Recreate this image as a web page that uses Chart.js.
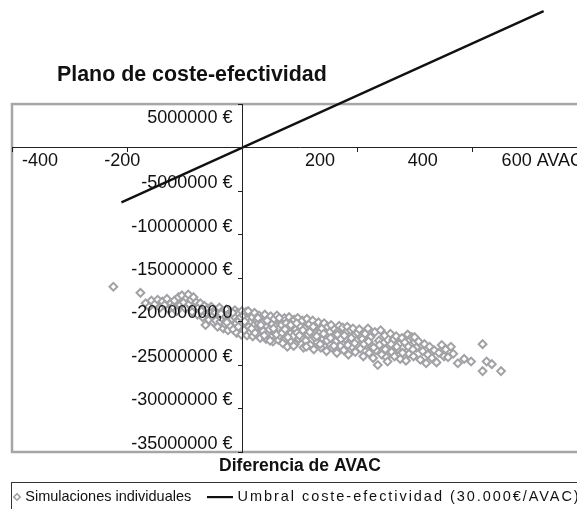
<!DOCTYPE html>
<html><head><meta charset="utf-8">
<script src="https://cdn.jsdelivr.net/npm/chart.js@4.4.1/dist/chart.umd.min.js"></script>
<style>html,body{margin:0;padding:0;background:#fff;overflow:hidden;width:577px;height:509px}canvas{display:block}</style>
</head><body>
<canvas id="c" width="600" height="509"></canvas>
<script>
// ---- data ----
const chartTitle = 'Plano de coste-efectividad';
const xTitle = 'Diferencia de AVAC';
const seriesNames = ['Simulaciones individuales', 'Umbral coste-efectividad (30.000€/AVAC)'];

// individual simulations: QALY difference (AVAC) and cost difference (millions €)
const simAVAC = [
-224,-177,-168,-162,-158,-152,-147,-143,-139,-135,-131,-128,-124,-121,-118,-114,-111,-108,-105,-102,
-99,-97,-94,-92,-89,-87,-85,-83,-80,-78,-76,-73,-71,-69,-66,-64,-62,-60,-58,-56,
-54,-52,-50,-48,-46,-45,-43,-41,-40,-38,-36,-35,-33,-31,-30,-28,-26,-25,-23,-21,-20,-18,-16,-15,-13,-11,-10,-8,-6,-5,-3,-2,-1,0,
2,3,5,6,8,9,11,12,14,15,17,18,20,21,23,25,26,28,29,31,33,34,36,37,39,41,42,44,45,47,49,50,52,53,55,57,58,60,62,63,65,66,68,70,71,73,75,76,78,80,81,83,85,86,88,90,91,93,95,96,98,100,
102,104,106,108,110,112,114,116,118,120,122,124,126,128,130,132,134,136,138,140,142,144,146,148,150,152,154,156,158,160,162,164,166,168,170,172,174,176,178,180,182,184,186,188,190,192,194,196,198,200,
203,205,208,210,213,215,218,220,222,225,227,230,232,235,237,240,242,245,247,250,252,254,257,259,262,264,267,269,272,274,277,279,282,284,287,289,292,294,297,299,
302,306,309,313,316,319,322,325,329,333,337,341,346,350,353,357,362,366,374,385,397,417,417,424,433,449,
-47,-37,-27,-17,-7,4,10,16,22,27,32,38,43,48,54,59,64,69,74,79,84,89,94,99,105,111,117,123,129,135,
141,147,153,159,165,171,177,183,189,195,211,219,228,238,248,258,268,278,288,296
];
const simCostM = [
-16.0,-16.7,-17.9,-18.3,-17.6,-18.0,-17.5,-18.4,-17.7,-18.1,-17.4,-18.6,-17.9,-18.3,-17.6,-18.8,-17.2,-18.1,-17.0,-17.8,
-18.5,-17.3,-16.9,-18.0,-17.5,-18.9,-17.2,-18.3,-17.8,-19.2,-18.4,-17.9,-18.8,-19.5,-18.2,-20.4,-19.0,-18.5,-19.8,-18.9,
-18.3,-19.4,-20.1,-18.7,-19.9,-18.9,-20.6,-19.2,-18.4,-20.0,-19.6,-18.8,-20.8,-19.3,-20.3,-18.6,-19.8,-21.0,-19.1,-20.5,-18.9,-19.7,-20.9,-19.4,-18.7,-20.2,-21.3,-19.0,-19.9,-20.7,-19.5,-21.5,-18.8,-20.3,
-19.3,-21.0,-20.1,-18.9,-21.6,-19.7,-20.6,-19.1,-21.2,-20.0,-19.5,-21.7,-20.4,-19.0,-20.9,-19.8,-21.4,-20.2,-19.3,-21.9,-20.7,-19.6,-21.1,-20.0,-19.2,-22.0,-20.5,-21.5,-19.8,-20.9,-19.4,-21.8,-20.3,-22.3,-19.7,-21.2,-20.6,-19.3,-22.1,-20.8,-21.6,-19.9,-20.4,-22.5,-21.0,-19.6,-21.9,-20.2,-22.9,-20.7,-19.5,-21.4,-22.3,-20.0,-21.7,-19.8,-22.6,-20.9,-21.3,-19.6,-22.0,-20.5,
-21.8,-19.9,-23.0,-20.8,-22.2,-19.7,-21.5,-20.3,-22.7,-21.0,-19.9,-23.2,-21.9,-20.5,-22.4,-20.1,-21.3,-23.0,-20.8,-22.0,-20.2,-21.6,-23.4,-20.6,-22.5,-21.2,-20.4,-23.0,-21.8,-20.9,-22.3,-23.6,-21.1,-20.5,-22.8,-21.5,-20.7,-23.3,-22.0,-21.2,-20.6,-23.8,-22.4,-21.0,-22.9,-20.8,-21.7,-23.5,-22.2,-21.3,
-20.9,-23.1,-22.0,-24.0,-21.4,-22.7,-20.8,-23.6,-21.8,-22.9,-24.2,-21.2,-23.3,-25.0,-22.2,-21.0,-23.8,-22.5,-21.6,-24.1,-24.6,-22.9,-21.4,-23.5,-22.1,-24.0,-21.7,-23.2,-22.6,-24.3,-21.9,-23.0,-22.4,-24.5,-21.5,-23.7,-22.8,-21.8,-24.0,-21.8,
-23.0,-22.3,-24.4,-23.4,-22.6,-24.8,-23.8,-22.9,-24.2,-23.3,-24.7,-23.6,-22.7,-24.0,-23.2,-24.1,-22.9,-23.7,-24.8,-24.3,-24.6,-22.6,-25.7,-24.6,-24.9,-25.7,
-19.0,-19.1,-20.1,-19.0,-20.6,-20.0,-18.8,-20.8,-21.3,-19.6,-20.4,-21.6,-19.9,-22.2,-20.8,-21.5,-19.6,-21.3,-20.9,-21.8,-20.4,-22.8,-20.2,-21.6,-21.0,-22.9,-21.2,-20.6,-21.7,-22.6,
-21.4,-22.2,-21.9,-22.8,-21.5,-22.0,-21.6,-22.7,-21.9,-22.5,-22.6,-22.3,-23.0,-22.7,-23.2,-22.6,-22.9,-23.6,-22.9,-23.2
];

// cost-effectiveness threshold line (30.000 €/AVAC), end points
const lineAVAC = [-210, 523];
const lineCost = [-6300000, 15690000];

// axes
const xTicks = [-400, -200, 0, 200, 400, 600];
const xTickLabels = ['-400', '-200', '', '200', '400', '600 AVAC'];
const yTicks = [5000000, 0, -5000000, -10000000, -15000000, -20000000, -25000000, -30000000, -35000000];
const yTickLabels = ['5000000 €', '', '-5000000 €', '-10000000 €', '-15000000 €', '-20000000,0', '-25000000 €', '-30000000 €', '-35000000 €'];

// ---- styling ----
const FAMILY = "'Liberation Sans', Arial, Helvetica, sans-serif";
const NB = '\u00a0';
const xLabelPadAfter = {200: 13, 400: 18};   // visual shift of some x labels
const xLabelPadBefore = {'-400': 3};
const yLabelGap = NB + NB;

function makeDiamondIcon() {
  const c = document.createElement('canvas'); c.width = 30; c.height = 10;
  const g = c.getContext('2d');
  g.beginPath(); g.moveTo(24, 1.8); g.lineTo(27.2, 5); g.lineTo(24, 8.2); g.lineTo(20.8, 5); g.closePath();
  g.fillStyle = '#fff'; g.fill(); g.strokeStyle = '#9b9b9f'; g.lineWidth = 1.5; g.stroke();
  return c;
}
function makeLineIcon() {
  const c = document.createElement('canvas'); c.width = 26; c.height = 4;
  const g = c.getContext('2d'); g.fillStyle = '#111'; g.fillRect(0, 1, 26, 2.2);
  return c;
}
const diamondIcon = makeDiamondIcon();
const lineIcon = makeLineIcon();

const simPoints = simAVAC.map((x, i) => ({x: x, y: simCostM[i] * 1e6}));
const linePoints = lineAVAC.map((x, i) => ({x: x, y: lineCost[i]}));

const decor = {
  id: 'decor',
  afterLayout(chart) {
    chart.titleBlock.left = 57;
    const lg = chart.legend;
    const h = lg.height;
    lg.left = -21; lg.right = 640;
    lg.top = 470.75; lg.bottom = 470.75 + h;
  },
  beforeDraw(chart) {
    // the second legend text is set wider (letter spacing) in the original
    const ctx = chart.ctx;
    if (!ctx.__origFill) {
      const orig = ctx.fillText;
      ctx.__origFill = orig;
      ctx.fillText = function (t, x, y, mw) {
        if (t === seriesNames[1] && 'letterSpacing' in this) {
          const prev = this.letterSpacing; this.letterSpacing = '1.95px';
          orig.call(this, t, x, y);
          this.letterSpacing = prev; return;
        }
        return mw === undefined ? orig.call(this, t, x, y) : orig.call(this, t, x, y, mw);
      };
    }
  },
  beforeDatasetsDraw(chart) {
    const {ctx, chartArea: a} = chart;
    ctx.save();
    ctx.strokeStyle = '#a6a6a6'; ctx.lineWidth = 2.5;
    ctx.strokeRect(a.left, a.top, a.right - a.left, a.bottom - a.top);
    ctx.restore();
  },
  afterDraw(chart) {
    const {ctx} = chart;
    ctx.save();
    ctx.strokeStyle = '#333'; ctx.lineWidth = 1;
    ctx.strokeRect(11.5, 482.5, 640, 40);
    ctx.restore();
  }
};

const gridStyle = {display: true, drawOnChartArea: false, drawTicks: true, tickLength: 4, color: '#222', lineWidth: 1, z: 1};
const borderStyle = {display: true, color: '#222', width: 1, z: 1};

new Chart(document.getElementById('c'), {
  type: 'scatter',
  data: {
    datasets: [
      {label: seriesNames[0], data: simPoints, pointStyle: 'rectRot', pointRadius: 3.9, pointHoverRadius: 3.9,
       borderWidth: 2, borderColor: '#a2a2a6', backgroundColor: '#ffffff', showLine: false},
      {label: seriesNames[1], type: 'line', data: linePoints, showLine: true, pointRadius: 0, borderColor: '#111',
       borderWidth: 2.3, backgroundColor: '#111', fill: false, tension: 0, clip: false}
    ]
  },
  options: {
    responsive: false, animation: false, devicePixelRatio: 1,
    layout: {padding: {left: 12, right: 12, top: 0, bottom: -15.5}},
    scales: {
      x: {
        type: 'linear', position: {y: 0}, min: -400, max: 600,
        afterBuildTicks: s => { s.ticks = xTicks.map(v => ({value: v})); },
        afterFit: s => { s.height = 0; },
        ticks: {z: 1, autoSkip: false, maxRotation: 0, minRotation: 0, align: 'inner', labelOffset: -5, padding: -1,
          font: {size: 18, family: FAMILY}, color: '#111',
          callback: v => { const i = xTicks.indexOf(v); if (i < 0) return '';
            return NB.repeat(xLabelPadBefore[String(v)] || 0) + xTickLabels[i] + NB.repeat(xLabelPadAfter[v] || 0); }},
        grid: gridStyle, border: borderStyle
      },
      y: {
        type: 'linear', position: {x: 0}, min: -35000000, max: 5000000,
        afterBuildTicks: s => { s.ticks = yTicks.map(v => ({value: v})); },
        afterFit: s => { s.width = 0; },
        ticks: {z: 1, autoSkip: false, labelOffset: -8, padding: 7, font: {size: 18, family: FAMILY}, color: '#111',
          callback: v => { const i = yTicks.indexOf(v); const t = (i < 0 || !yTickLabels[i]) ? '' : yTickLabels[i] + yLabelGap;
            return v === yTicks[0] ? ['', '', t] : t; }},
        grid: gridStyle, border: borderStyle
      },
      x2: {
        type: 'linear', position: 'bottom', min: 0, max: 1,
        ticks: {display: false}, grid: {display: false, drawTicks: false}, border: {display: false},
        title: {display: true, text: xTitle, color: '#111', font: {size: 17.5, weight: 'bold', family: FAMILY}, padding: {top: 4, bottom: 4}}
      }
    },
    plugins: {
      title: {display: true, text: chartTitle, align: 'start', color: '#111',
        font: {size: 21.4, weight: 'bold', family: FAMILY}, padding: {top: 62.2, bottom: 16.2}},
      legend: {display: true, position: 'bottom', align: 'start',
        labels: {usePointStyle: true, pointStyleWidth: 20, padding: 19, color: '#111', font: {size: 14.5, family: FAMILY},
          generateLabels: chart => {
            const items = Chart.defaults.plugins.legend.labels.generateLabels(chart);
            items[0].pointStyle = diamondIcon; items[1].pointStyle = lineIcon;
            items.forEach(it => { it.fontColor = '#111'; });
            return items;
          }}},
      tooltip: {enabled: false}
    }
  },
  plugins: [decor]
});
</script>
</body></html>
